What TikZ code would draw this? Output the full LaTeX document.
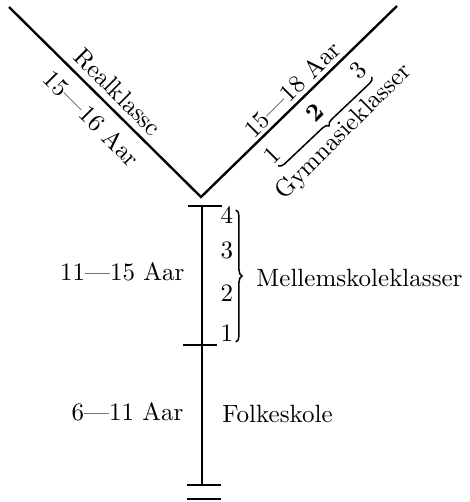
\documentclass[tikz,border=0pt]{standalone}
\usetikzlibrary{decorations.pathreplacing}

\tikzstyle{linie} = [line width=0.95pt]
\tikzstyle{strich} = [line width=0.8pt]
\tikzstyle{klammer} = [decorate, decoration={brace, amplitude=2.4pt}, line width=0.6pt]
\tikzstyle{schrift} = [inner sep=0pt]

\begin{document}
\begin{tikzpicture}[x=0.4pt, y=-0.4pt]
	\useasboundingbox (0,0) rectangle (469,502);
	% Gabel
	\coordinate (gabel)    at (201,197);
	\coordinate (realende) at (9,7);
	\coordinate (gymende)  at (397,6);
	\draw[linie] (realende) -- (gabel) -- (gymende);
	
	% Stamm
	\coordinate (oben)  at (202,206);
	\coordinate (mitte) at (202,345);
	\coordinate (unten) at (202,485);
	\draw[linie] (oben) -- (unten);
	\draw[strich] (oben)  ++(-14,0) -- ++(34,0);
	\draw[strich] (mitte) ++(-19,0) -- ++(34,0);
	\draw[strich] (unten) ++(-15,0) -- ++(34,0);
	\draw[strich] (unten) ++(-15,14) -- ++(34,0);
	
	% Realklasse
	\node (real)    [schrift, rotate=-45] at (118,92)  {Realklassc};
	\node (realaar) [schrift, rotate=-45] at (92,118)  {15---16 Aar};
	
	% Gymnasium
	\node (gymaar) [schrift, rotate=45] at (292,89)  {15---18 Aar};
	\node (g1)     [schrift, rotate=45] at (272,155) {1};
	\node (g2)     [schrift, rotate=45] at (315,113) {\textbf{2}};
	\node (g3)     [schrift, rotate=45] at (358,70)  {3};
	\draw[klammer] (372,77) -- (278,166);
	\node (gym)    [schrift, rotate=45] at (344,132) {Gymnasieklasser};
	
	% Mellemskole
	\node (m4) [schrift] at (227,215) {4};
	\node (m3) [schrift] at (227,250) {3};
	\node (m2) [schrift] at (227,293) {2};
	\node (m1) [schrift] at (227,333) {1};
	\draw[klammer] (236,210) -- (236,342);
	\node (mellem)    [schrift, anchor=west] at (256,278) {Mellemskoleklasser};
	\node (mellemaar) [schrift, anchor=east] at (185,272) {11---15 Aar};
	
	% Folkeskole
	\node (folk)    [schrift, anchor=west] at (222,414) {Folkeskole};
	\node (folkaar) [schrift, anchor=east] at (184,412) {6---11 Aar};
\end{tikzpicture}
\end{document}
